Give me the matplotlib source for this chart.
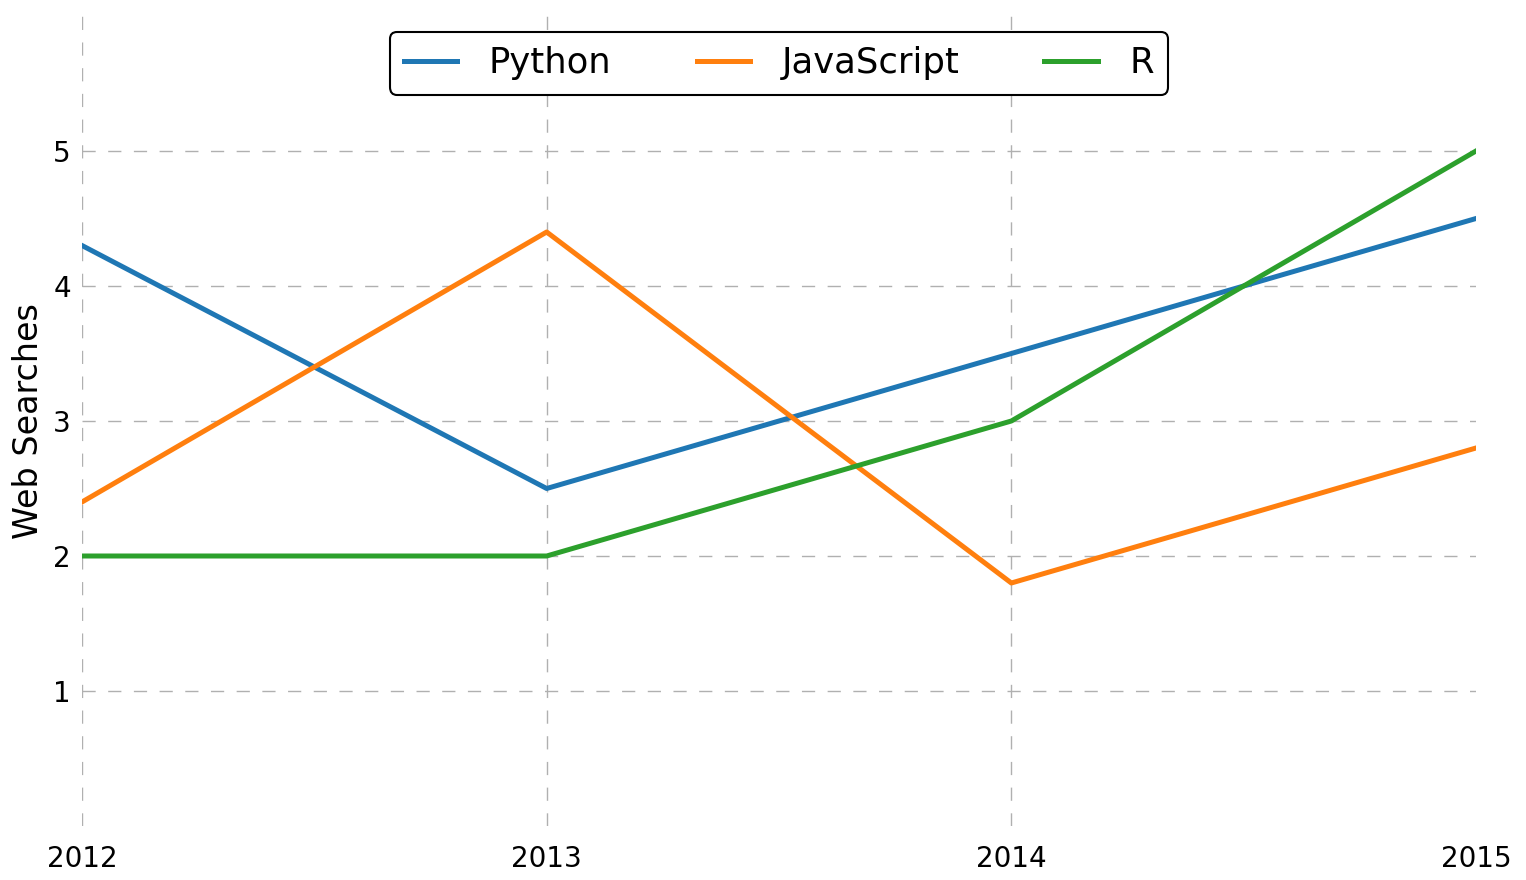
"""
Recherches web par langage, 2012-2015.
"""
import matplotlib
matplotlib.use("Agg")
import matplotlib.pyplot as plt

# --- Données ---
years = [2012, 2013, 2014, 2015]
python_vals = [4.3, 2.5, 3.5, 4.5]
javascript_vals = [2.4, 4.4, 1.8, 2.8]
r_vals = [2.0, 2.0, 3.0, 5.0]
y_ticks = [1, 2, 3, 4, 5]

fig = plt.figure(figsize=(15.26, 8.80), dpi=100)
ax = fig.add_axes([82 / 1526, 54 / 880, (1476 - 82) / 1526, (826 - 16) / 880])

ax.plot(years, python_vals, color="#1f77b4", linewidth=3.6, label="Python")
ax.plot(years, javascript_vals, color="#ff7f0e", linewidth=3.6, label="JavaScript")
ax.plot(years, r_vals, color="#2ca02c", linewidth=3.6, label="R")

ax.set_xlim(2012, 2015)
ax.set_ylim(0, 6)
ax.set_xticks(years)
ax.set_xticklabels([str(y) for y in years])
ax.set_yticks(y_ticks)

# grille pointillée, pas de cadre
ax.grid(True, color="#b0b0b0", linewidth=1, linestyle=(0, (9.5, 9)))
ax.set_axisbelow(True)
ax.xaxis.get_gridlines()[-1].set_visible(False)  # pas de ligne au bord droit
for s in ax.spines.values():
    s.set_visible(False)
ax.tick_params(length=0, labelsize=20)
ax.tick_params(axis="x", pad=14)
ax.tick_params(axis="y", pad=8)

ax.set_ylabel("Web Searches", fontsize=24, labelpad=6)

leg = ax.legend(loc="upper center", ncol=3, fontsize=25.5, frameon=True,
                fancybox=True, framealpha=1, edgecolor="black",
                bbox_to_anchor=(0.5, 0.98), borderaxespad=0,
                handlelength=1.5, handletextpad=0.9,
                columnspacing=2.4, borderpad=0.4)
leg.get_frame().set_linewidth(1.5)

fig.savefig("out.png", dpi=100)
plt.close(fig)
